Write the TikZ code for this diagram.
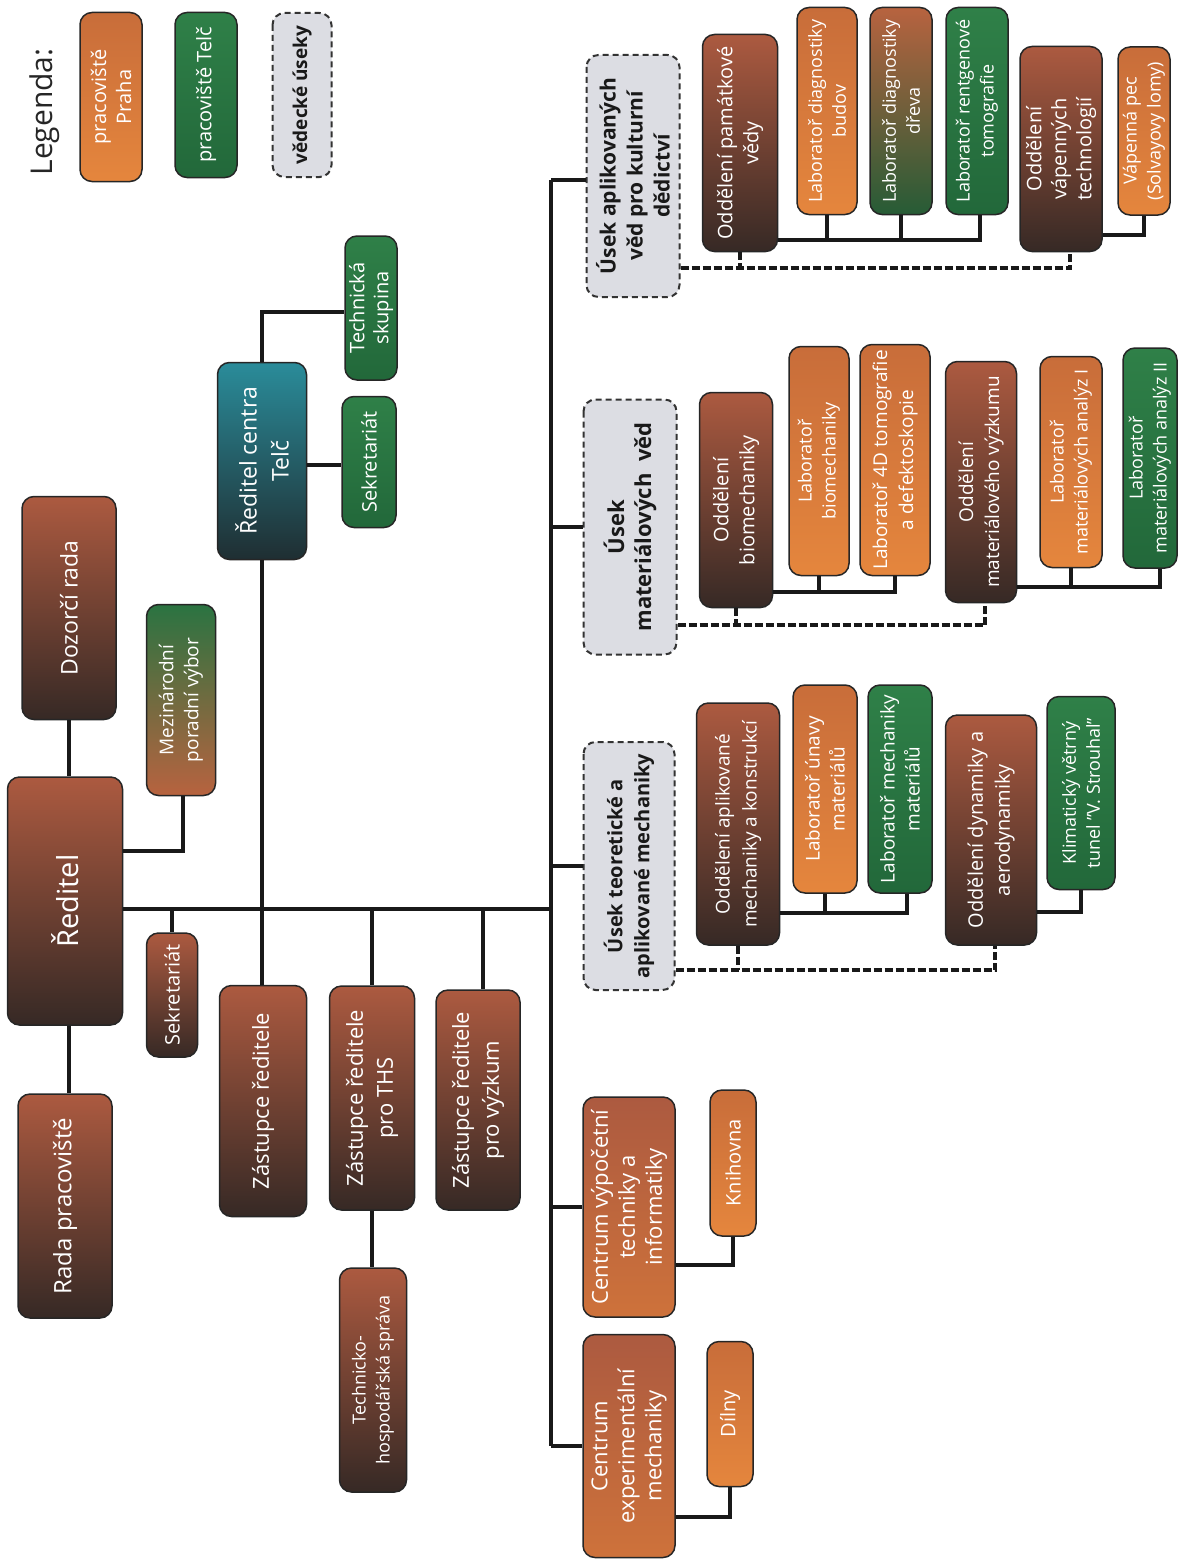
\documentclass[tikz,border=0pt]{standalone}
\usepackage{fontspec}
\setmainfont{Open Sans}

\definecolor{brtop}{HTML}{AC5A40}
\definecolor{brbot}{HTML}{362925}
\definecolor{ortop}{HTML}{C86D3A}
\definecolor{orbot}{HTML}{E5863D}
\definecolor{grtop}{HTML}{2F8048}
\definecolor{grbot}{HTML}{22683A}
\definecolor{tltop}{HTML}{2A8C9A}
\definecolor{tlbot}{HTML}{1F2E32}
\definecolor{usekgray}{HTML}{DCDDE3}

\begin{document}
\begin{tikzpicture}[x=1pt, y=-1pt,
    dims/.style 2 args={minimum height=#1, minimum width=#2},
    box/.style={rectangle, rounded corners=12pt, draw=black!85, line width=1.5pt,
        rotate=90, align=center, text=white, inner sep=0pt,
        font=\fontsize{18}{24}\selectfont},
    brownbox/.style={box, top color=brtop, middle color=brtop!70!brbot, bottom color=brbot},
    orangebox/.style={box, top color=ortop, bottom color=orbot},
    greenbox/.style={box, top color=grtop, bottom color=grbot},
    tealbox/.style={box, top color=tltop, bottom color=tlbot},
    centerbox/.style={box, top color=brtop, bottom color=ortop!80!orbot},
    mixbox/.style={box, top color=grtop!90!black, bottom color=brtop!80!orbot},
    woodbox/.style={box, top color=brtop!80!orbot, bottom color=grbot!80!brbot},
    usekbox/.style={box, fill=usekgray, draw=black!80, dash pattern=on 6pt off 4pt,
        line width=2pt, text=black!90, font=\bfseries\fontsize{22}{27}\selectfont},
    conn/.style={line width=3.5pt, black!90},
    dconn/.style={conn, dash pattern=on 8pt off 3pt}]

    \useasboundingbox (0,0) rectangle (1179,1560);

    % Legend
    \node[rotate=90, font=\fontsize{30}{34}\selectfont, text=black!85] (legenda) at (45,112) {Legenda:};
    \node[orangebox, dims={62}{169}, font=\fontsize{20}{25}\selectfont] (lpraha) at (111,97) {pracoviště\\Praha};
    \node[greenbox, dims={62}{165}, font=\fontsize{20}{25}\selectfont] (ltelc) at (206,95) {pracoviště Telč};
    \node[usekbox, dims={59}{164}, font=\bfseries\fontsize{19}{24}\selectfont] (lusek) at (302,95) {vědecké úseky};

    % Management
    \node[brownbox, dims={94}{223}, font=\fontsize{23}{29}\selectfont] (dozor) at (69,608) {Dozorčí rada};
    \node[brownbox, dims={115}{248}, font=\fontsize{29}{34}\selectfont] (reditel) at (65,901) {Ředitel};
    \node[brownbox, dims={94}{224}, font=\fontsize{24}{29}\selectfont] (radap) at (65,1206) {Rada pracoviště};
    \node[mixbox, dims={69}{191}, font=\fontsize{19}{25}\selectfont] (mezi) at (181,700) {Mezinárodní\\poradní výbor};
    \node[brownbox, dims={51}{124}, font=\fontsize{20}{25}\selectfont] (sekr) at (172,995) {Sekretariát};
    \node[tealbox, dims={89}{197}, font=\fontsize{23}{32}\selectfont] (telc) at (262,461) {Ředitel centra\\Telč};
    \node[greenbox, dims={52}{144}, font=\fontsize{20}{24}\selectfont] (techsk) at (371,308) {Technická\\skupina};
    \node[greenbox, dims={54}{131}, font=\fontsize{20}{25}\selectfont] (sekrtelc) at (369,462) {Sekretariát};
    \node[brownbox, dims={87}{231}, font=\fontsize{22}{30}\selectfont] (zast) at (263,1101) {Zástupce ředitele};
    \node[brownbox, dims={85}{224}, font=\fontsize{22}{30}\selectfont] (zths) at (372,1098) {Zástupce ředitele\\pro THS};
    \node[brownbox, dims={84}{220}, font=\fontsize{22}{30}\selectfont] (zvyz) at (478,1100) {Zástupce ředitele\\pro výzkum};
    \node[brownbox, dims={67}{224}] (ths) at (373,1380) {Technicko-\\hospodářská správa};

    % Usek aplikovanych ved pro kulturni dedictvi
    \node[usekbox, dims={93}{242}, font=\bfseries\fontsize{21}{27}\selectfont] (usekA) at (633,176) {Úsek aplikovaných\\věd pro kulturní\\dědictví};
    \node[brownbox, dims={75}{217}, font=\fontsize{20}{26}\selectfont] (pamat) at (740,143) {Oddělení památkové\\vědy};
    \node[orangebox, dims={60}{207}] (budov) at (827,111) {Laboratoř diagnostiky\\budov};
    \node[woodbox, dims={62}{207}] (drevo) at (901,111) {Laboratoř diagnostiky\\dřeva};
    \node[greenbox, dims={62}{207}] (rtg) at (977,111) {Laboratoř rentgenové\\tomografie};
    \node[brownbox, dims={82}{205}, font=\fontsize{20}{25}\selectfont] (vapen) at (1061,149) {Oddělení\\vápenných\\technologií};
    \node[orangebox, dims={52}{168}] (pec) at (1144,131) {Vápenná pec\\(Solvayovy lomy)};

    % Usek materialovych ved
    \node[usekbox, dims={93}{255}] (usekM) at (630,527) {Úsek\\materiálových~~věd};
    \node[brownbox, dims={73}{215}, font=\fontsize{20}{26}\selectfont] (biom) at (736,500) {Oddělení\\biomechaniky};
    \node[orangebox, dims={60}{229}] (lbiom) at (819,461) {Laboratoř\\biomechaniky};
    \node[orangebox, dims={70}{231}, font=\fontsize{19}{26}\selectfont] (ltomo) at (895,460) {Laboratoř 4D tomografie\\a defektoskopie};
    \node[brownbox, dims={71}{241}, font=\fontsize{19}{26}\selectfont] (matvyz) at (981,482) {Oddělení\\materiálového výzkumu};
    \node[orangebox, dims={62}{211}] (lmatI) at (1071,462) {Laboratoř\\materiálových analýz I};
    \node[greenbox, dims={54}{220}] (lmatII) at (1150,458) {Laboratoř\\materiálových analýz II};

    % Usek teoreticke a aplikovane mechaniky
    \node[usekbox, dims={91}{248}, font=\bfseries\fontsize{20}{27}\selectfont] (usekT) at (629,866) {Úsek teoretické a\\aplikované mechaniky};
    \node[brownbox, dims={83}{242}, font=\fontsize{19}{27}\selectfont] (amk) at (738,824) {Oddělení aplikované\\mechaniky a konstrukcí};
    \node[orangebox, dims={64}{208}, font=\fontsize{19}{25}\selectfont] (lunavy) at (825,789) {Laboratoř únavy\\materiálů};
    \node[greenbox, dims={64}{208}, font=\fontsize{19}{25}\selectfont] (lmech) at (900,789) {Laboratoř mechaniky\\materiálů};
    \node[brownbox, dims={91}{230}, font=\fontsize{20}{27}\selectfont] (dynam) at (991,830) {Oddělení dynamiky a\\aerodynamiky};
    \node[greenbox, dims={68}{193}] (tunel) at (1081,793) {Klimatický větrný\\tunel "V. Strouhal"};

    % Centra
    \node[centerbox, dims={92}{220}, font=\fontsize{22}{27}\selectfont] (cvti) at (629,1207) {Centrum výpočetní\\techniky a\\informatiky};
    \node[orangebox, dims={46}{146}, font=\fontsize{20}{25}\selectfont] (knihovna) at (733,1163) {Knihovna};
    \node[centerbox, dims={92}{223}, font=\fontsize{22}{27}\selectfont] (cem) at (629,1446) {Centrum\\experimentální\\mechaniky};
    \node[orangebox, dims={46}{145}, font=\fontsize{20}{25}\selectfont] (dilny) at (730,1414) {Dílny};

    % Junction points
    \coordinate (hub) at (551,909);
    \coordinate (trunktop) at (551,180);
    \coordinate (trunkbot) at (551,1446);
    \coordinate (jmezi) at (0,851);
    \coordinate (jtech) at (0,312);
    \coordinate (jsekr) at (0,465);
    \coordinate (ja) at (0,240);
    \coordinate (jvap) at (0,235);
    \coordinate (jad) at (0,268);
    \coordinate (jm) at (0,592);
    \coordinate (jmat) at (0,587);
    \coordinate (jmd) at (0,625);
    \coordinate (jt) at (0,913);
    \coordinate (jdyn) at (0,912);
    \coordinate (jtd) at (0,970);
    \coordinate (jknih) at (0,1265);
    \coordinate (jdil) at (0,1517);

    % Draw the management lines
    \draw[conn] (dozor.west) -- (dozor.west |- reditel.east);
    \draw[conn] (reditel.west -| dozor.west) -- (radap.east -| dozor.west);
    \draw[conn] (reditel.south |- jmezi) -| ([xshift=2pt]mezi.west);
    \draw[conn] (reditel.south |- hub) -- (hub);
    \draw[conn] (sekr.east) -- (sekr.east |- hub);
    \draw[conn] (telc.west) -- (zast.east -| telc.west);
    \draw[conn] (telc.east) |- (techsk.north |- jtech);
    \draw[conn] (telc.south |- jsekr) -- (sekrtelc.north |- jsekr);
    \draw[conn] (zths.east) -- (zths.east |- hub);
    \draw[conn] (zths.west) -- (ths.east -| zths.west);
    \draw[conn] ([xshift=5pt]zvyz.east) -- ([xshift=5pt]zvyz.east |- hub);

    % Draw the trunk
    \draw[conn] (trunktop) -- (trunkbot);
    \draw[conn] (trunktop) -- (usekA.north |- trunktop);
    \draw[conn] (trunktop |- usekM.north) -- (usekM.north);
    \draw[conn] (trunktop |- usekT.north) -- (usekT.north);
    \draw[conn] (trunktop |- cvti.north) -- (cvti.north);
    \draw[conn] (trunkbot) -- (cem.north);

    % Lines of the first section
    \draw[conn] (pamat.south |- ja) -| ([xshift=3pt]rtg.west);
    \draw[conn] (budov.west) -- (budov.west |- ja);
    \draw[conn] (drevo.west) -- (drevo.west |- ja);
    \draw[conn] (vapen.south |- jvap) -| (pec.west);
    \draw[dconn] (usekA.south |- jad) -| ([xshift=9pt]vapen.west);
    \draw[dconn] (pamat.west) -- (pamat.west |- jad);

    % Lines of the second section
    \draw[conn] (biom.south |- jm) -| (ltomo.west);
    \draw[conn] (lbiom.west) -- (lbiom.west |- jm);
    \draw[conn] (matvyz.south |- jmat) -| ([xshift=10pt]lmatII.west);
    \draw[conn] (lmatI.west) -- (lmatI.west |- jmat);
    \draw[dconn] (usekM.south |- jmd) -| ([xshift=4pt]matvyz.west);
    \draw[dconn] (biom.west) -- (biom.west |- jmd);

    % Lines of the third section
    \draw[conn] (amk.south |- jt) -| ([xshift=7pt]lmech.west);
    \draw[conn] (lunavy.west) -- (lunavy.west |- jt);
    \draw[conn] (dynam.south |- jdyn) -| (tunel.west);
    \draw[dconn] (usekT.south |- jtd) -| ([xshift=4pt]dynam.west);
    \draw[dconn] (amk.west) -- (amk.west |- jtd);

    % Lines of the centres
    \draw[conn] (cvti.south |- jknih) -| (knihovna.west);
    \draw[conn] (cem.south |- jdil) -| (dilny.west);
\end{tikzpicture}
\end{document}
